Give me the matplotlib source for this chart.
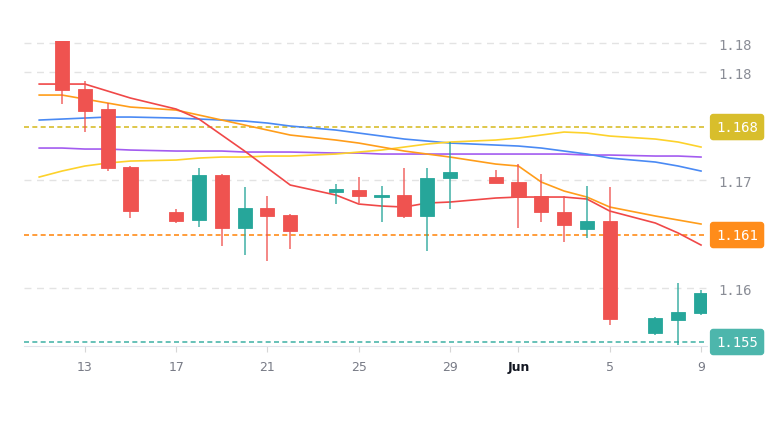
import numpy as np
import matplotlib
matplotlib.use("Agg")
from matplotlib import pyplot as plt
from matplotlib import transforms

# candle days (day number counted from 1 May, so 32 = 1 Jun)
days = [12, 13, 14, 15, 17, 18, 19, 20, 21, 22, 24, 25, 26, 27, 28, 29,
        31, 32, 33, 34, 35, 36, 38, 39, 40]
opens = [1.1733, 1.17018, 1.16898, 1.1655, 1.1628, 1.16232, 1.16502, 1.16184, 1.16304, 1.16262,
         1.164, 1.16412, 1.1637, 1.16382, 1.16256, 1.16484, 1.1649, 1.1646, 1.16376, 1.1628,
         1.16178, 1.16226, 1.15554, 1.15632, 1.15674]
highs = [1.17378, 1.17066, 1.16934, 1.16556, 1.16298, 1.16544, 1.16508, 1.1643, 1.16376, 1.16268,
         1.16448, 1.1649, 1.16436, 1.16544, 1.16544, 1.167, 1.16532, 1.16568, 1.16508, 1.16376,
         1.16436, 1.1643, 1.1565, 1.15854, 1.15812]
lows = [1.16928, 1.1676, 1.16526, 1.16244, 1.16214, 1.1619, 1.16076, 1.16022, 1.15986, 1.16058,
        1.16328, 1.16334, 1.1622, 1.16244, 1.16046, 1.16298, 1.16454, 1.16184, 1.1622, 1.161,
        1.16124, 1.15602, 1.15542, 1.15482, 1.15662]
closes = [1.17012, 1.16886, 1.16544, 1.16286, 1.16226, 1.16502, 1.16184, 1.16304, 1.16256, 1.16166,
          1.16418, 1.16376, 1.16382, 1.16256, 1.16484, 1.1652, 1.16454, 1.1637, 1.1628, 1.16202,
          1.16226, 1.15638, 1.15644, 1.1568, 1.15794]

# moving averages
ma_days = [11, 12, 13, 14, 15, 17, 18, 19, 20, 21, 22, 24, 25, 26, 27, 28, 29,
           31, 32, 33, 34, 35, 36, 38, 39, 40]
ma_red = [1.17048, 1.17048, 1.17048, 1.17006, 1.16964, 1.16898, 1.16838, 1.16742, 1.16646, 1.16544,
          1.16442, 1.16382, 1.16328, 1.16316, 1.1631, 1.16334, 1.1634, 1.16364, 1.1637, 1.1637,
          1.1637, 1.16358, 1.16286, 1.16214, 1.16154, 1.16082]
ma_orange = [1.16982, 1.16982, 1.16958, 1.16934, 1.1691, 1.16892, 1.16862, 1.16832, 1.16802, 1.16772,
             1.16742, 1.16712, 1.16694, 1.1667, 1.16646, 1.16628, 1.1661, 1.16568, 1.16556, 1.1646,
             1.16406, 1.1637, 1.1631, 1.16256, 1.16232, 1.16208]
ma_blue = [1.16832, 1.16838, 1.16844, 1.1685, 1.1685, 1.16844, 1.16838, 1.16832, 1.16826, 1.16814,
           1.16796, 1.16772, 1.16754, 1.16736, 1.16718, 1.16706, 1.16694, 1.16682, 1.16676, 1.16664,
           1.16646, 1.16628, 1.16604, 1.1658, 1.16556, 1.16526]
ma_purple = [1.16664, 1.16664, 1.16658, 1.16658, 1.16652, 1.16646, 1.16646, 1.16646, 1.1664, 1.1664,
             1.1664, 1.16634, 1.16634, 1.16628, 1.16628, 1.16628, 1.16628, 1.16628, 1.16628, 1.16628,
             1.16628, 1.16622, 1.16622, 1.16616, 1.16616, 1.1661]
ma_yellow = [1.1649, 1.16526, 1.16556, 1.16574, 1.16586, 1.16592, 1.16604, 1.1661, 1.1661, 1.16616,
             1.16616, 1.16628, 1.1664, 1.16652, 1.1667, 1.16688, 1.167, 1.16712, 1.16724, 1.16742,
             1.1676, 1.16754, 1.16736, 1.16718, 1.167, 1.1667]

# price levels
level_values = [1.1679, 1.16142, 1.155]
level_labels = ['1.168', '1.161', '1.155']
level_colors = ['#d8be2c', '#ff8c1a', '#4db6ac']

grid_values = [1.15824, 1.16472, 1.1712, 1.17294]
grid_labels = ['1.16', '1.17', '1.18', '1.18']

xtick_days = [13, 17, 21, 25, 29, 32, 36, 40]
xtick_labels = ['13', '17', '21', '25', '29', 'Jun', '5', '9']

up_color = '#26a69a'
down_color = '#ef5350'

fig = plt.figure(figsize=(7.7, 4.35), dpi=100)
ax = fig.add_axes([0.0312, 0.2023, 0.887, 0.701])

# grid
for g in grid_values:
    ax.axhline(g, color='#e3e3e3', lw=1, ls=(0, (5, 4)), zorder=0)

# moving averages
ax.plot(ma_days, ma_purple, color='#a35cf0', lw=1.2, zorder=2)
ax.plot(ma_days, ma_blue, color='#4a8af4', lw=1.2, zorder=2)
ax.plot(ma_days, ma_yellow, color='#fdd22b', lw=1.2, zorder=2)
ax.plot(ma_days, ma_orange, color='#ff9d1a', lw=1.2, zorder=2)
ax.plot(ma_days, ma_red, color='#f04848', lw=1.2, zorder=2)

# candles
for d, o, h, l, c in zip(days, opens, highs, lows, closes):
    col = up_color if c >= o else down_color
    ax.vlines(d, l, h, color=col, lw=1.3, alpha=0.75, zorder=3)
    ax.bar(d, abs(c - o), bottom=min(o, c), width=0.62, color=col,
           edgecolor=col, linewidth=0.6, zorder=4)

# levels
trans = transforms.blended_transform_factory(ax.transAxes, ax.transData)
for v, lab, col in zip(level_values, level_labels, level_colors):
    ax.axhline(v, color=col, lw=1.2, ls=(0, (3, 2)), zorder=1)
    ax.text(1.044, v, lab, transform=trans, ha='center', va='center',
            color='white', fontsize=10, family='DejaVu Sans Mono', clip_on=False,
            bbox=dict(boxstyle='round,pad=0.4,rounding_size=0.2', fc=col, ec=col))

ax.set_xlim(10.335, 40.263)
ax.set_ylim(1.15476, 1.17306)

ax.yaxis.tick_right()
ax.set_yticks(grid_values)
ax.set_yticklabels(grid_labels, family='DejaVu Sans Mono', fontsize=10, color='#8a8d96')
ax.tick_params(axis='y', length=0, pad=8)

ax.set_xticks(xtick_days)
ax.set_xticklabels(xtick_labels, fontsize=9, color='#787b86')
ax.tick_params(axis='x', length=4, color='#d6d6d6', pad=6)
for lab in ax.get_xticklabels():
    if lab.get_text() == 'Jun':
        lab.set_fontweight('bold')
        lab.set_color('#131722')

for s in ['top', 'left', 'right']:
    ax.spines[s].set_visible(False)
ax.spines['bottom'].set_color('#e0e3eb')

plt.savefig('out.png', dpi=100)
